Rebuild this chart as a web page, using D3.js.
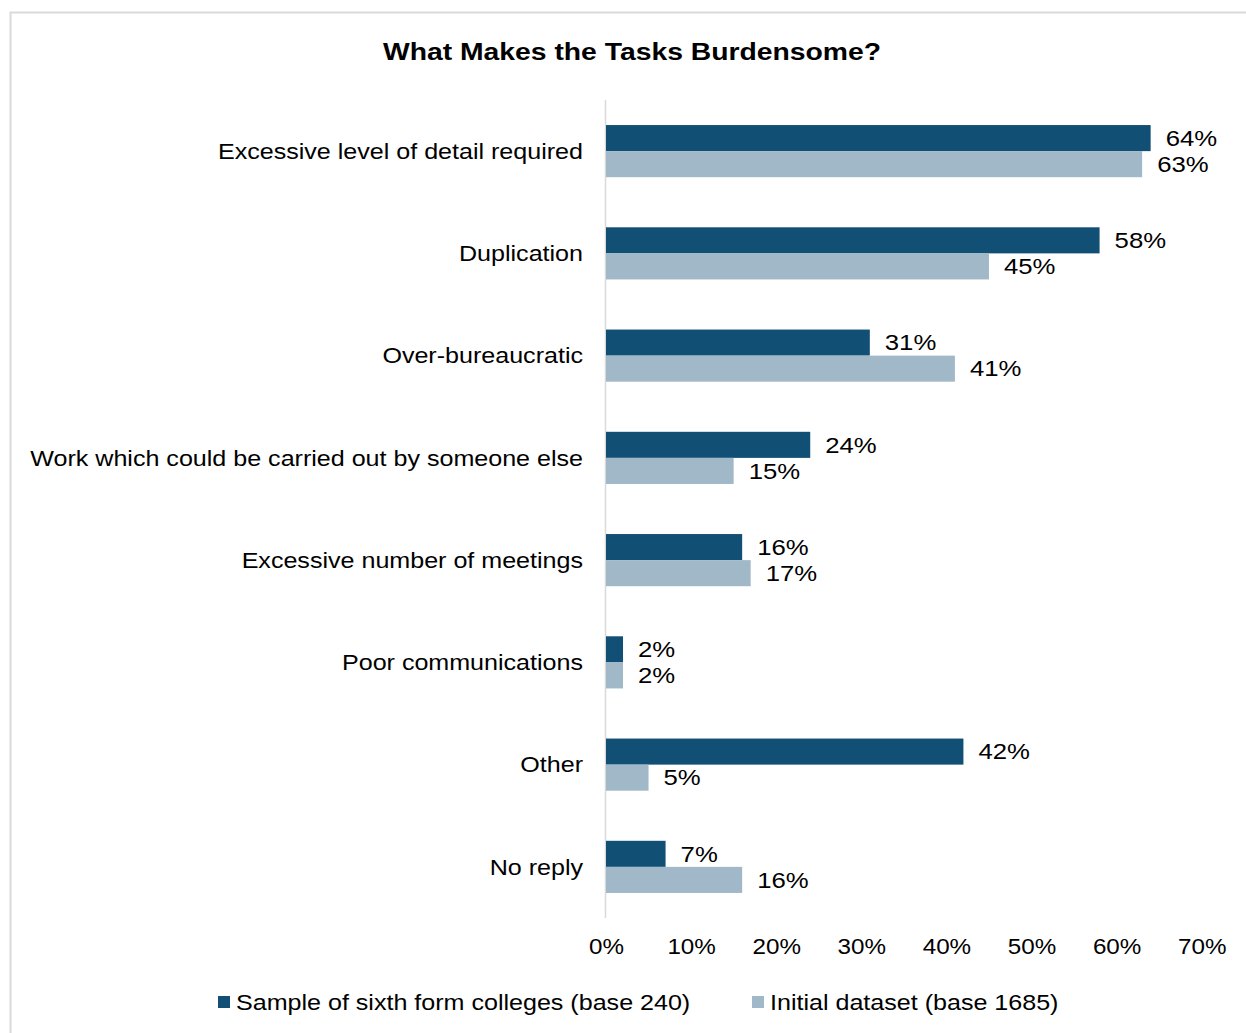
<!DOCTYPE html>
<meta charset="utf-8">
<style>
body { margin: 0; background: #fff; }
svg { font-family: "Liberation Sans", Arial, sans-serif; }
.axis path, .axis line { display: none; }
.axis text { font-size: 22px; fill: #000; }
</style>
<body>
<script src="https://cdn.jsdelivr.net/npm/d3@7"></script>
<script>

var categories = ["Excessive level of detail required", "Duplication", "Over-bureaucratic",
  "Work which could be carried out by someone else", "Excessive number of meetings",
  "Poor communications", "Other", "No reply"];
var seriesNames = ["Sample of sixth form colleges (base 240)", "Initial dataset (base 1685)"];
var sampleValues = [64, 58, 31, 24, 16, 2, 42, 7];
var initialValues = [63, 45, 41, 15, 17, 2, 5, 16];
var xTicks = [0, 10, 20, 30, 40, 50, 60, 70];
var colors = ["#114f74", "#a1b8c8"];

var W = 1246, H = 1033;
var margin = {top: 100, left: 606, right: 44, bottom: 115};
var stretch = 1.14; // the original text is rendered a little wide

function place(px, py, s) {
  return "translate(" + px + "," + py + ") scale(" + (s || stretch) + ",1)";
}

var svg = d3.select("body").append("svg")
    .attr("width", W)
    .attr("height", H);

// chart frame
svg.append("rect")
    .attr("x", 10.5).attr("y", 12.5)
    .attr("width", W + 20).attr("height", H + 20)
    .attr("fill", "none")
    .attr("stroke", "#d9d9d9")
    .attr("stroke-width", 2);

svg.append("text")
    .attr("transform", place(632, 60, 1.18))
    .attr("text-anchor", "middle")
    .style("font-size", "24px")
    .style("font-weight", "bold")
    .text("What Makes the Tasks Burdensome?");

var x = d3.scaleLinear()
    .domain([0, 70])
    .range([margin.left, margin.left + 70 * 8.51]);

var y = d3.scaleBand()
    .domain(categories)
    .range([margin.top, H - margin.bottom])
    .paddingInner(0.49)
    .paddingOuter(0.245);

var sub = d3.scaleBand()
    .domain([0, 1])
    .range([0, y.bandwidth()]);

var rows = categories.map(function(c, i) {
  return {cat: c, vals: [sampleValues[i], initialValues[i]]};
});

// vertical axis line
svg.append("line")
    .attr("x1", x(0) - 0.5).attr("x2", x(0) - 0.5)
    .attr("y1", margin.top).attr("y2", H - margin.bottom)
    .attr("stroke", "#d9d9d9")
    .attr("stroke-width", 1.5);

var g = svg.selectAll(".cat")
    .data(rows)
  .enter().append("g")
    .attr("class", "cat")
    .attr("transform", function(d) { return "translate(0," + y(d.cat) + ")"; });

g.selectAll("rect")
    .data(function(d) { return d.vals; })
  .enter().append("rect")
    .attr("x", x(0))
    .attr("y", function(d, i) { return sub(i); })
    .attr("width", function(d) { return x(d) - x(0); })
    .attr("height", sub.bandwidth())
    .attr("fill", function(d, i) { return colors[i]; });

g.selectAll(".val")
    .data(function(d) { return d.vals; })
  .enter().append("text")
    .attr("class", "val")
    .attr("transform", function(d, i) {
      return place(x(d) + 15, sub(i) + sub.bandwidth() / 2, 1.17);
    })
    .attr("dy", "0.35em")
    .style("font-size", "22px")
    .text(function(d) { return d + "%"; });

g.append("text")
    .attr("transform", place(583, y.bandwidth() / 2))
    .attr("dy", "0.35em")
    .attr("text-anchor", "end")
    .style("font-size", "22px")
    .text(function(d) { return d.cat; });

svg.append("g")
    .attr("class", "axis")
    .attr("transform", "translate(0," + (H - margin.bottom + 12) + ")")
    .call(d3.axisBottom(x).tickValues(xTicks).tickSize(0).tickPadding(8)
      .tickFormat(function(d) { return d + "%"; }))
  .selectAll("text")
    .attr("transform", "scale(1.1,1)");

// legend
var legendX = [218, 752];
var leg = svg.selectAll(".legend")
    .data(seriesNames)
  .enter().append("g")
    .attr("class", "legend")
    .attr("transform", function(d, i) { return "translate(" + legendX[i] + ",1002)"; });

leg.append("rect")
    .attr("x", 0).attr("y", -6)
    .attr("width", 12).attr("height", 12)
    .attr("fill", function(d, i) { return colors[i]; });

leg.append("text")
    .attr("transform", place(18, 0))
    .attr("dy", "0.35em")
    .style("font-size", "22px")
    .text(function(d) { return d; });

</script>
</body>
